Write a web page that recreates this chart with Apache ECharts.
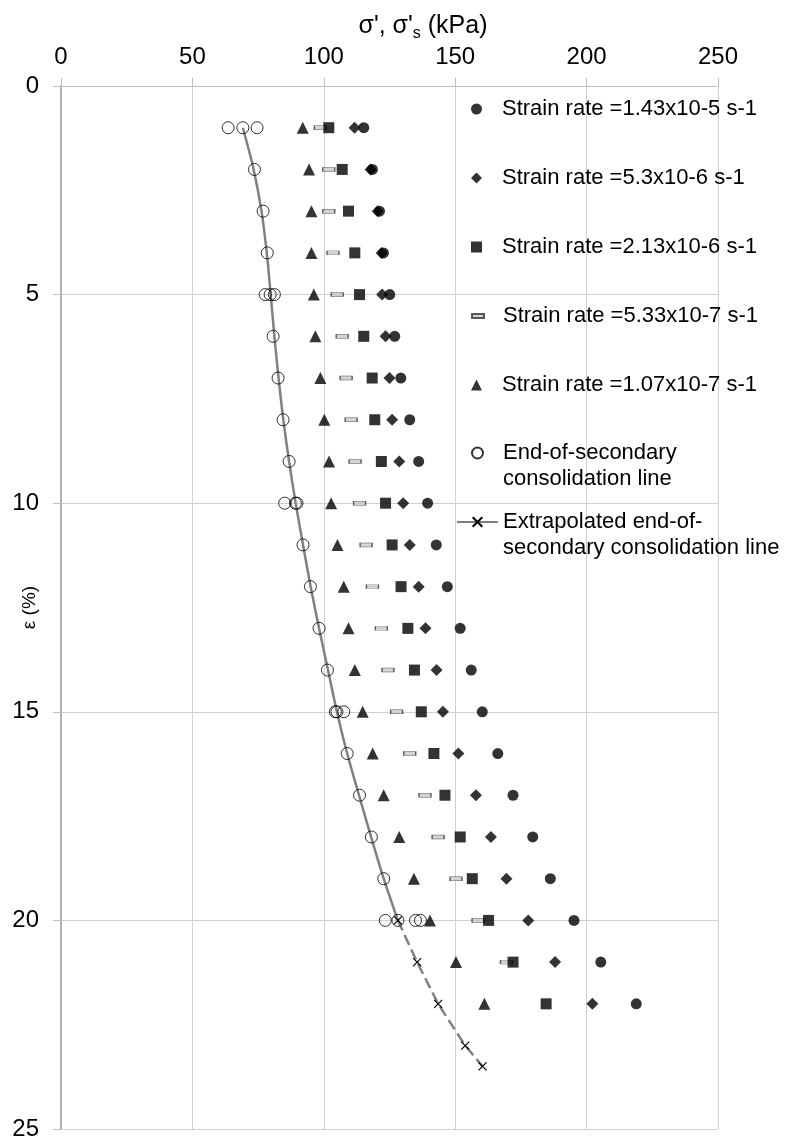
<!DOCTYPE html>
<html><head><meta charset="utf-8">
<script src="https://cdn.jsdelivr.net/npm/echarts@6/dist/echarts.min.js"></script>
<style>html,body{margin:0;padding:0;background:#fff}#c{width:786px;height:1143px}</style>
</head><body><div id="c"></div>
<script>
// strain rows (ε, %)
const strainRows = [1,2,3,4,5,6,7,8,9,10,11,12,13,14,15,16,17,18,19,20,21,22];
// σ' (kPa) per strain rate
const rate1 = [115.2,118.5,121.2,122.7,125.1,127.0,129.3,132.7,136.1,139.5,142.8,147.0,151.9,156.1,160.3,166.2,172.0,179.5,186.2,195.2,205.4,218.9]; // 1.43x10-5
const rate2 = [111.7,117.8,120.5,122.0,122.2,123.5,125.0,126.0,128.7,130.2,132.7,136.1,138.7,142.9,145.3,151.2,157.9,163.6,169.5,177.8,188.0,202.2]; // 5.3x10-6
const rate3 = [101.9,107.0,109.4,111.8,113.6,115.2,118.4,119.4,121.9,123.5,126.0,129.4,132.0,134.5,137.1,141.9,146.1,151.9,156.5,162.7,172.0,184.6]; // 2.13x10-6
const rate4 = [98.7,101.9,101.9,103.5,105.1,107.0,108.5,110.4,111.9,113.6,116.1,118.5,121.9,124.4,127.7,132.7,138.5,143.5,150.3,158.7,169.5,null]; // 5.33x10-7
const rate5 = [92.0,94.4,95.3,95.3,96.2,96.8,98.7,100.2,102.0,102.8,105.2,107.6,109.4,111.8,114.8,118.6,122.8,128.7,134.3,140.4,150.3,161.1]; // 1.07x10-7
// end-of-secondary consolidation points
const eosStrain = [1,1,1,2,3,4,5,5,5,6,7,8,9,10,10,10,11,12,13,14,15,15,15,16,17,18,19,20,20,20,20];
const eosStress = [63.6,69.2,74.6,73.6,76.9,78.5,77.7,79.6,81.2,80.7,82.6,84.5,86.8,85.1,89.2,89.8,92.1,94.9,98.2,101.4,104.4,105.0,107.6,108.9,113.6,118.1,122.8,123.4,128.2,134.9,136.8];
// end-of-secondary consolidation line (fitted)
const fitStrain = [1,2,3,4,5,6,7,8,9,10,11,12,13,14,15,16,17,18,19,20];
const fitStress = [69.2,73.3,76.3,78.3,79.8,81.2,82.8,84.6,86.8,89.3,92.1,95.0,98.2,101.6,105.0,108.9,113.4,118.0,122.8,128.2];
// extrapolated line
const extStrain = [20,21,22,23,23.5];
const extStress = [128.2,135.5,143.5,153.8,160.4];

const names = [
  'Strain rate =1.43x10-5 s-1',
  'Strain rate =5.3x10-6 s-1',
  'Strain rate =2.13x10-6 s-1',
  'Strain rate =5.33x10-7 s-1',
  'Strain rate =1.07x10-7 s-1',
  'End-of-secondary\nconsolidation line',
  'Extrapolated end-of-\nsecondary consolidation line'
];

const pairs = (xs, ys) => xs.map((x, i) => [x, ys[i]]).filter(p => p[0] != null);
const FONT = '"Liberation Sans", Arial, sans-serif';
const crossPath = 'path://M0,0L10,10M10,0L0,10';

const chart = echarts.init(document.getElementById('c'), null, {renderer: 'canvas'});

const legTxt = {fontFamily: FONT, fontSize: 22, color: '#000', lineHeight: 26};
function leg(name, top, opts) {
  return Object.assign({
    show: true, orient: 'vertical', left: 471, top: top, selectedMode: false,
    itemWidth: 11, itemHeight: 11, padding: 0,
    data: [name],
    textStyle: Object.assign({}, legTxt, {padding: [0, 0, 0, 15]})
  }, opts || {});
}
const twoLine = n => ' \n' + n;

chart.setOption({
  animation: false,
  backgroundColor: '#fff',
  title: {
    text: "σ', σ'{s|s} (kPa)", left: 418, top: 6, textAlign: 'center',
    textStyle: {fontFamily: FONT, fontSize: 25, fontWeight: 'normal', color: '#000',
      rich: {s: {fontFamily: FONT, fontSize: 16, verticalAlign: 'bottom', padding: [15, 0, 0, 0], color: '#000'}}}
  },
  grid: {left: 61, top: 86, right: 68, bottom: 14, containLabel: false, outerBoundsMode: 'none'},
  xAxis: {
    type: 'value', position: 'top', min: 0, max: 250, interval: 50,
    axisLine: {show: true, lineStyle: {color: '#bfbfbf', width: 1}},
    axisTick: {show: true, inside: false, length: 8, lineStyle: {color: '#bfbfbf'}},
    axisLabel: {fontFamily: FONT, fontSize: 24, color: '#000', margin: 17},
    splitLine: {show: true, lineStyle: {color: '#d0d0d0', width: 1}}
  },
  yAxis: {
    type: 'value', inverse: true, min: 0, max: 25, interval: 5,
    name: 'ε (%)', nameLocation: 'middle', nameGap: 22, nameRotate: 90, nameMoveOverlap: false,
    nameTextStyle: {fontFamily: FONT, fontSize: 19, color: '#000'},
    axisLine: {show: true, lineStyle: {color: '#b0b0b0', width: 2}},
    axisTick: {show: true, inside: false, length: 8, lineStyle: {color: '#bfbfbf'}},
    axisLabel: {fontFamily: FONT, fontSize: 24, color: '#000', margin: 22},
    splitLine: {show: true, lineStyle: {color: '#d0d0d0', width: 1}}
  },
  legend: [
    leg(names[0], 96),
    leg(names[1], 165),
    leg(names[2], 234),
    leg(names[3], 303, {itemWidth: 12, itemHeight: 4, textStyle: Object.assign({}, legTxt, {padding: [0, 0, 0, 14]})}),
    leg(names[4], 372),
    leg(names[5], 414, {formatter: twoLine}),
    leg(names[6], 483, {left: 456, itemWidth: 41, itemHeight: 12, formatter: twoLine,
      textStyle: Object.assign({}, legTxt, {padding: [0, 0, 0, 0]}),
      data: [{name: names[6], lineStyle: {type: 'solid', width: 2, color: '#808080'}}]})
  ],
  series: [
    {type: 'line', name: 'fit', data: pairs(fitStress, fitStrain), smooth: 0.3, showSymbol: false, symbol: 'none',
      lineStyle: {color: '#808080', width: 2.5}, silent: true, z: 1},
    {type: 'line', name: names[6], data: pairs(extStress, extStrain), symbol: crossPath, symbolSize: 8,
      showAllSymbol: true,
      lineStyle: {color: '#808080', width: 2.5, type: [11, 5]},
      itemStyle: {color: 'rgba(0,0,0,0)', borderColor: '#000', borderWidth: 1.2}, z: 2},
    {type: 'scatter', name: names[5], data: pairs(eosStress, eosStrain), symbol: 'circle', symbolSize: 12,
      itemStyle: {color: 'rgba(255,255,255,0)', borderColor: '#000', borderWidth: 1}, z: 3},
    {type: 'scatter', name: names[4], data: pairs(rate5, strainRows), symbol: 'triangle', symbolSize: 12,
      itemStyle: {color: '#000'}, z: 3},
    {type: 'scatter', name: names[3], data: pairs(rate4, strainRows), symbol: 'rect', symbolSize: [12, 4],
      itemStyle: {color: '#c8c8c8', borderColor: '#333', borderWidth: 0.8}, z: 3},
    {type: 'scatter', name: names[2], data: pairs(rate3, strainRows), symbol: 'rect', symbolSize: 11,
      itemStyle: {color: '#000'}, z: 4},
    {type: 'scatter', name: names[1], data: pairs(rate2, strainRows), symbol: 'diamond', symbolSize: 12,
      itemStyle: {color: '#000'}, z: 4},
    {type: 'scatter', name: names[0], data: pairs(rate1, strainRows), symbol: 'circle', symbolSize: 11,
      itemStyle: {color: '#000'}, z: 4}
  ]
});
</script></body></html>
